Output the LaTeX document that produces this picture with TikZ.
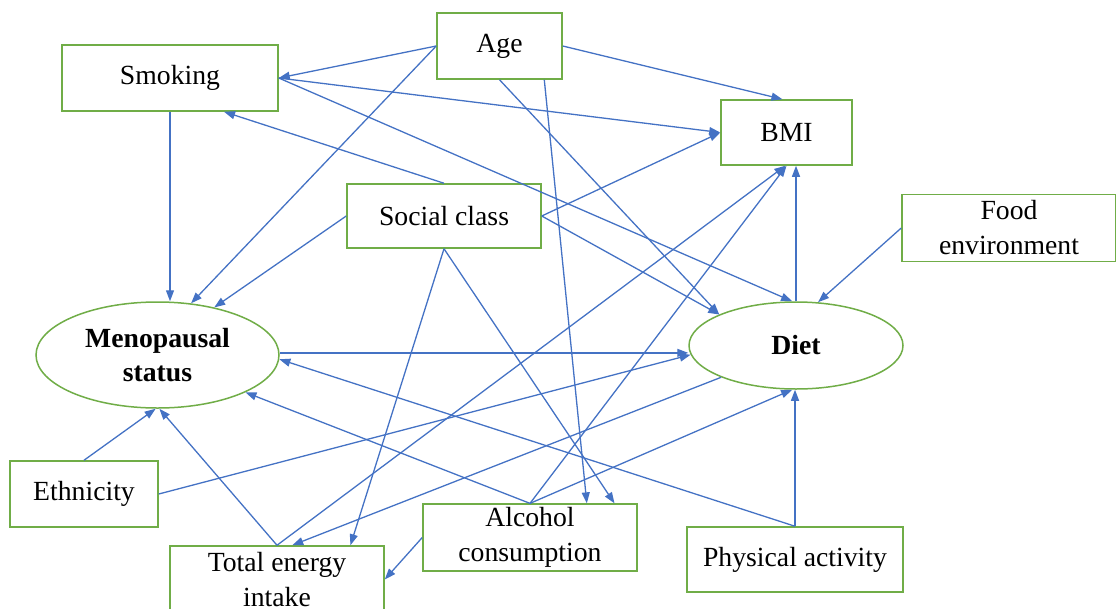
\documentclass[tikz,border=0pt]{standalone}
\usepackage{fontspec}
\setmainfont{Liberation Serif}
\usetikzlibrary{shapes.geometric, arrows.meta}
\definecolor{boxgreen}{HTML}{70AD47}
\definecolor{linkblue}{HTML}{4472C4}

\begin{document}
\begin{tikzpicture}[
        x=1pt, y=-1pt,
        box/.style={rectangle, draw=boxgreen, line width=1.5pt, minimum height=66pt, text centered, align=center, font=\fontsize{27.7}{35}\selectfont, fill=white},
        central/.style={ellipse, draw=boxgreen, line width=1.5pt, inner sep=0pt, text centered, align=center, font=\fontsize{27.7}{34}\selectfont\bfseries, fill=white},
        arrow/.style={-{Triangle[length=11pt, width=8pt]}, line width=1.3pt, draw=linkblue}
    ]
    \useasboundingbox (0,0) rectangle (1116,608);

    % Central outcome nodes
    \node[central, minimum width=243pt, minimum height=106pt] (meno) at (157.5,355) {Menopausal\\status};
    \node[central, minimum width=214pt, minimum height=87pt] (diet) at (796,345.5) {Diet};

    % Factors along the top
    \node[box, minimum width=125pt] (age) at (499.5,46) {Age};
    \node[box, minimum width=216pt] (smoking) at (170,78) {Smoking};
    \node[box, minimum width=131pt, minimum height=65pt] (bmi) at (786.5,132.5) {BMI};
    \node[box, minimum width=194pt, minimum height=64pt] (social) at (444,216) {Social class};
    \node[box, minimum width=214pt, minimum height=67pt] (food) at (1009,228) {Food\\environment};

    % Factors along the bottom
    \node[box, minimum width=148pt] (ethnicity) at (84,494) {Ethnicity};
    \node[box, minimum width=214pt, minimum height=65pt] (alcohol) at (530,537.5) {Alcohol\\consumption};
    \node[box, minimum width=214pt, minimum height=67pt] (energy) at (277,579.5) {Total energy\\intake};
    \node[box, minimum width=216pt, minimum height=65pt] (physical) at (795,559.5) {Physical activity};

    % Arrows from Age
    \draw[arrow] (age.west) -- (smoking.east);
    \draw[arrow] (age.west) -- (meno.57);
    \draw[arrow] (age.east) -- (bmi.97);
    \draw[arrow] (age.south) -- (diet.158);
    \draw[arrow] (age.-37) -- (alcohol.31);

    % Arrows from Smoking
    \draw[arrow] (smoking.south) -- (smoking.south |- meno.north);
    \draw[arrow] (smoking.east) -- (bmi.west);
    \draw[arrow] (smoking.east) -- (diet.95);

    % Arrows from Social class
    \draw[arrow] (social.north) -- (smoking.-32);
    \draw[arrow] (social.west) -- (meno.40);
    \draw[arrow] (social.east) -- (bmi.west);
    \draw[arrow] (social.east) -- (diet.158);
    \draw[arrow] (social.south) -- (energy.25);
    \draw[arrow] (social.south) -- (alcohol.22);

    % Arrows between the two outcomes and into BMI
    \draw[arrow] (meno.1) -- (meno.1 -| diet.west);
    \draw[arrow] (diet.north) -- (diet.north |- bmi.south);
    \draw[arrow] (food.west) -- (diet.63);
    \draw[arrow] (diet.203) -- (energy.66);

    % Arrows from Ethnicity
    \draw[arrow] (ethnicity.north) -- (meno.-92);
    \draw[arrow] (ethnicity.east) -- (diet.185);

    % Arrows from Total energy intake
    \draw[arrow] (energy.north) -- (meno.-88);
    \draw[arrow] (energy.north) -- (bmi.-92);

    % Arrows from Alcohol consumption
    \draw[arrow] (alcohol.north) -- (meno.-23);
    \draw[arrow] (alcohol.north) -- (diet.-95);
    \draw[arrow] (alcohol.north) -- (bmi.-90);
    \draw[arrow] (alcohol.west) -- (energy.east);

    % Arrows from Physical activity
    \draw[arrow] (physical.north) -- (physical.north |- diet.south);
    \draw[arrow] (physical.north) -- (meno.-2);

\end{tikzpicture}
\end{document}
